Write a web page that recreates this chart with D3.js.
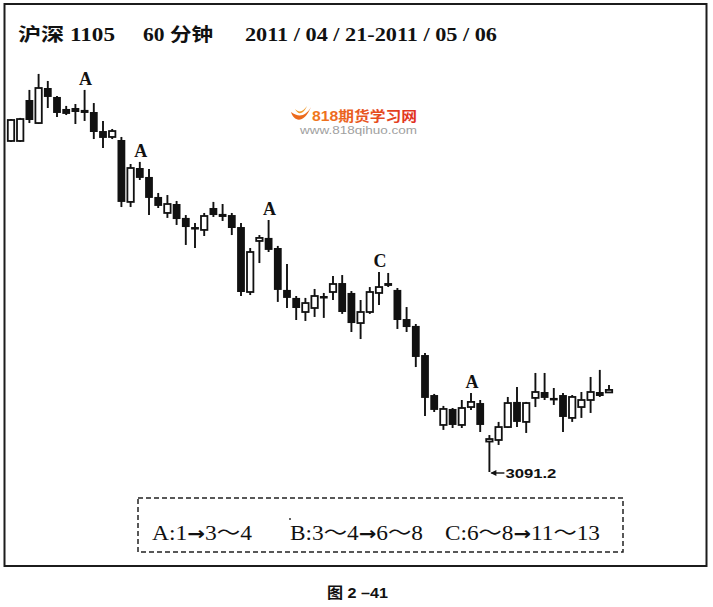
<!DOCTYPE html>
<html><head><meta charset="utf-8">
<script src="https://cdn.jsdelivr.net/npm/d3@7"></script>
<style>html,body{margin:0;padding:0;background:#fff;} svg{display:block}</style>
</head><body>
<svg id="c" width="713" height="607"></svg>
<script>
// 沪深1105 60分钟 K线 (2011/04/21 - 2011/05/06)
const opens = [3298.1,3298.1,3323.7,3309.3,3331.2,3325.6,3318.1,3318.7,3317.5,3316.2,
  3304.3,3300.6,3298.7,3260.0,3281.2,3275.6,3263.1,3253.1,3258.7,3250.0,
  3244.3,3242.5,3256.2,3252.5,3251.8,3244.3,3203.7,3235.6,3237.5,3231.2,
  3205.0,3200.0,3191.2,3193.7,3201.2,3203.7,3209.3,3203.1,3184.3,3191.2,
  3203.1,3209.3,3205.0,3186.8,3182.5,3164.3,3139.3,3120.6,3130.6,3120.6,
  3131.8,3134.3,3110.6,3111.2,3119.3,3135.0,3122.5,3137.5,3141.2,3137.5,
  3139.3,3125.0,3131.8,3136.2,3141.2,3141.2];
const highs = [3311.8,3312.5,3330.0,3340.0,3335.6,3326.2,3320.0,3321.2,3330.0,3321.8,
  3310.6,3305.6,3300.6,3283.7,3285.0,3280.6,3265.6,3264.3,3260.6,3251.8,
  3246.8,3253.1,3260.0,3258.7,3253.1,3246.8,3231.2,3239.3,3248.7,3232.5,
  3221.2,3201.2,3200.0,3205.6,3203.1,3213.7,3214.3,3204.3,3198.7,3206.8,
  3216.2,3215.6,3206.2,3194.3,3183.7,3165.6,3140.0,3132.5,3131.2,3136.2,
  3140.6,3136.2,3114.3,3122.5,3138.1,3144.3,3135.0,3153.1,3153.1,3143.7,
  3140.6,3139.3,3141.2,3150.6,3155.0,3145.6];
const lows = [3297.5,3297.5,3309.3,3308.7,3318.7,3313.1,3314.3,3308.7,3310.6,3299.3,
  3293.7,3299.3,3256.8,3256.8,3273.7,3251.8,3256.2,3250.0,3245.6,3233.1,
  3231.2,3238.7,3250.6,3248.1,3239.3,3201.2,3201.8,3221.8,3228.7,3197.5,
  3193.7,3186.2,3185.6,3188.1,3187.5,3198.7,3190.0,3178.7,3174.3,3190.0,
  3195.6,3206.8,3180.6,3178.7,3156.8,3126.2,3128.7,3117.5,3118.7,3118.7,
  3130.0,3116.2,3091.2,3108.1,3118.7,3119.3,3115.6,3131.8,3136.2,3133.1,
  3116.2,3122.5,3125.0,3128.1,3138.1,3140.6];
const closes = [3311.2,3311.8,3311.2,3331.2,3325.6,3315.6,3315.0,3316.2,3315.6,3303.7,
  3300.0,3304.3,3260.0,3281.2,3275.0,3262.5,3257.5,3258.7,3249.3,3244.3,
  3243.1,3251.2,3251.8,3250.6,3243.7,3203.7,3228.7,3237.5,3230.0,3205.0,
  3200.0,3193.7,3196.8,3201.2,3200.6,3208.7,3191.2,3184.3,3191.2,3203.7,
  3206.8,3207.5,3186.2,3181.8,3163.1,3137.5,3130.0,3130.6,3120.6,3131.2,
  3135.0,3120.6,3111.8,3119.3,3134.3,3122.5,3134.3,3141.2,3137.5,3136.8,
  3125.6,3138.1,3136.2,3141.2,3138.7,3142.5];
const markLabels = ["A","A","A","C","A"];
const markBars = [8,14,28,40,50];
const lowValue = 3091.2;
const titleParts = ["沪深 1105","60 分钟","2011 / 04 / 21-2011 / 05 / 06"];
const legendParts = [["A:1","→","3～4"],["B:3～4","→","6～8"],["C:6～8","→","11～13"]];
const caption = "图 2 –41";

const svg = d3.select("#c");
const serif = "'Liberation Serif','Times New Roman','Noto Sans CJK SC',serif";
const sans = "'Liberation Sans',Arial,'Noto Sans CJK SC',sans-serif";

// frame
svg.append("rect").attr("x",4.5).attr("y",4).attr("width",702).attr("height",562)
  .attr("fill","none").attr("stroke","#1c1c1c").attr("stroke-width",2);

// title
const titleX = [18,143,245], titleLen = [97,70,252];
titleParts.forEach((t,i)=>{
  svg.append("text").attr("x",titleX[i]).attr("y",41).text(t)
    .attr("font-family",serif).attr("font-weight","bold").attr("font-size",18.5)
    .attr("textLength",titleLen[i]).attr("lengthAdjust","spacingAndGlyphs").attr("fill","#111");
});

// watermark
const grad = svg.append("defs").append("linearGradient").attr("id","wm").attr("x1","0").attr("x2","1");
grad.append("stop").attr("offset","0").attr("stop-color","#f07a1e");
grad.append("stop").attr("offset","1").attr("stop-color","#e0301e");
svg.append("path").attr("d","M291,112 C294,122 304,124 311,107 C306,116 299,118 291,112 Z").attr("fill","#ec6a1c");
svg.append("path").attr("d","M295,109 C298,115 303,115 307,106 C303,112 299,113 295,109 Z").attr("fill","#f29a2a");
svg.append("text").attr("x",312).attr("y",121).text("818期货学习网")
  .attr("font-family",sans).attr("font-weight","bold").attr("font-size",14)
  .attr("textLength",105).attr("lengthAdjust","spacingAndGlyphs").attr("fill","url(#wm)");
svg.append("text").attr("x",300).attr("y",134).text("www.818qihuo.com")
  .attr("font-family",sans).attr("font-size",10.5)
  .attr("textLength",117).attr("lengthAdjust","spacingAndGlyphs").attr("fill","#a0a0a0");

// scales
const x = d3.scalePoint().domain(d3.range(opens.length)).range([11,609]);
const y = d3.scaleLinear().domain([3091.2,3342.45]).range([472,70]);

const g = svg.append("g");
opens.forEach((o,i)=>{
  const cx = x(i), c = closes[i], up = c >= o;
  g.append("line").attr("x1",cx).attr("x2",cx).attr("y1",y(highs[i])).attr("y2",y(lows[i]))
    .attr("stroke","#111").attr("stroke-width",1.9);
  const top = y(Math.max(o,c)), bot = y(Math.min(o,c));
  const h = Math.max(bot-top, 2.5);
  if (up) {
    g.append("rect").attr("x",cx-3.2).attr("y",top).attr("width",6.4).attr("height",h)
      .attr("fill","#fff").attr("stroke","#111").attr("stroke-width",1.8);
  } else {
    g.append("rect").attr("x",cx-3.9).attr("y",top).attr("width",7.8).attr("height",h)
      .attr("fill","#111");
  }
});

// wave labels
markLabels.forEach((t,i)=>{
  const b = markBars[i];
  svg.append("text").attr("x",x(b)+1).attr("y",y(highs[b])-5).attr("text-anchor","middle")
    .text(t).attr("font-family",serif).attr("font-weight","bold").attr("font-size",18).attr("fill","#111");
});

// low annotation
const li = lows.indexOf(lowValue);
const ly = y(lowValue)+1;
svg.append("line").attr("x1",x(li)+2).attr("x2",x(li)+15).attr("y1",ly).attr("y2",ly)
  .attr("stroke","#111").attr("stroke-width",1.4);
svg.append("path").attr("d",`M${x(li)+1},${ly} l6,-3 l0,6 Z`).attr("fill","#111");
svg.append("text").attr("x",x(li)+16).attr("y",ly+5).text(d3.format(".1f")(lowValue))
  .attr("font-family",sans).attr("font-weight","bold").attr("font-size",12)
  .attr("textLength",51).attr("lengthAdjust","spacingAndGlyphs").attr("fill","#111");

// legend box
svg.append("rect").attr("x",138).attr("y",498).attr("width",485).attr("height",54)
  .attr("fill","none").attr("stroke","#222").attr("stroke-width",1.5).attr("stroke-dasharray","5,3");
const legX = [152,290,445], legLen = [100,133,155];
legendParts.forEach((parts,i)=>{
  const t = svg.append("text").attr("x",legX[i]).attr("y",540)
    .attr("font-family",serif).attr("font-size",20)
    .attr("textLength",legLen[i]).attr("lengthAdjust","spacingAndGlyphs").attr("fill","#111");
  parts.forEach((p,j)=>{
    const s = t.append("tspan").text(p);
    if (p === "→") s.attr("font-family","'DejaVu Sans',sans-serif").attr("font-size",18).attr("font-weight","bold");
  });
});
svg.append("circle").attr("cx",290).attr("cy",519).attr("r",1).attr("fill","#333");

// caption
svg.append("text").attr("x",327).attr("y",598).text(caption)
  .attr("font-family",sans).attr("font-weight","bold").attr("font-size",15)
  .attr("textLength",61).attr("lengthAdjust","spacingAndGlyphs").attr("fill","#111");
</script>
</body></html>
